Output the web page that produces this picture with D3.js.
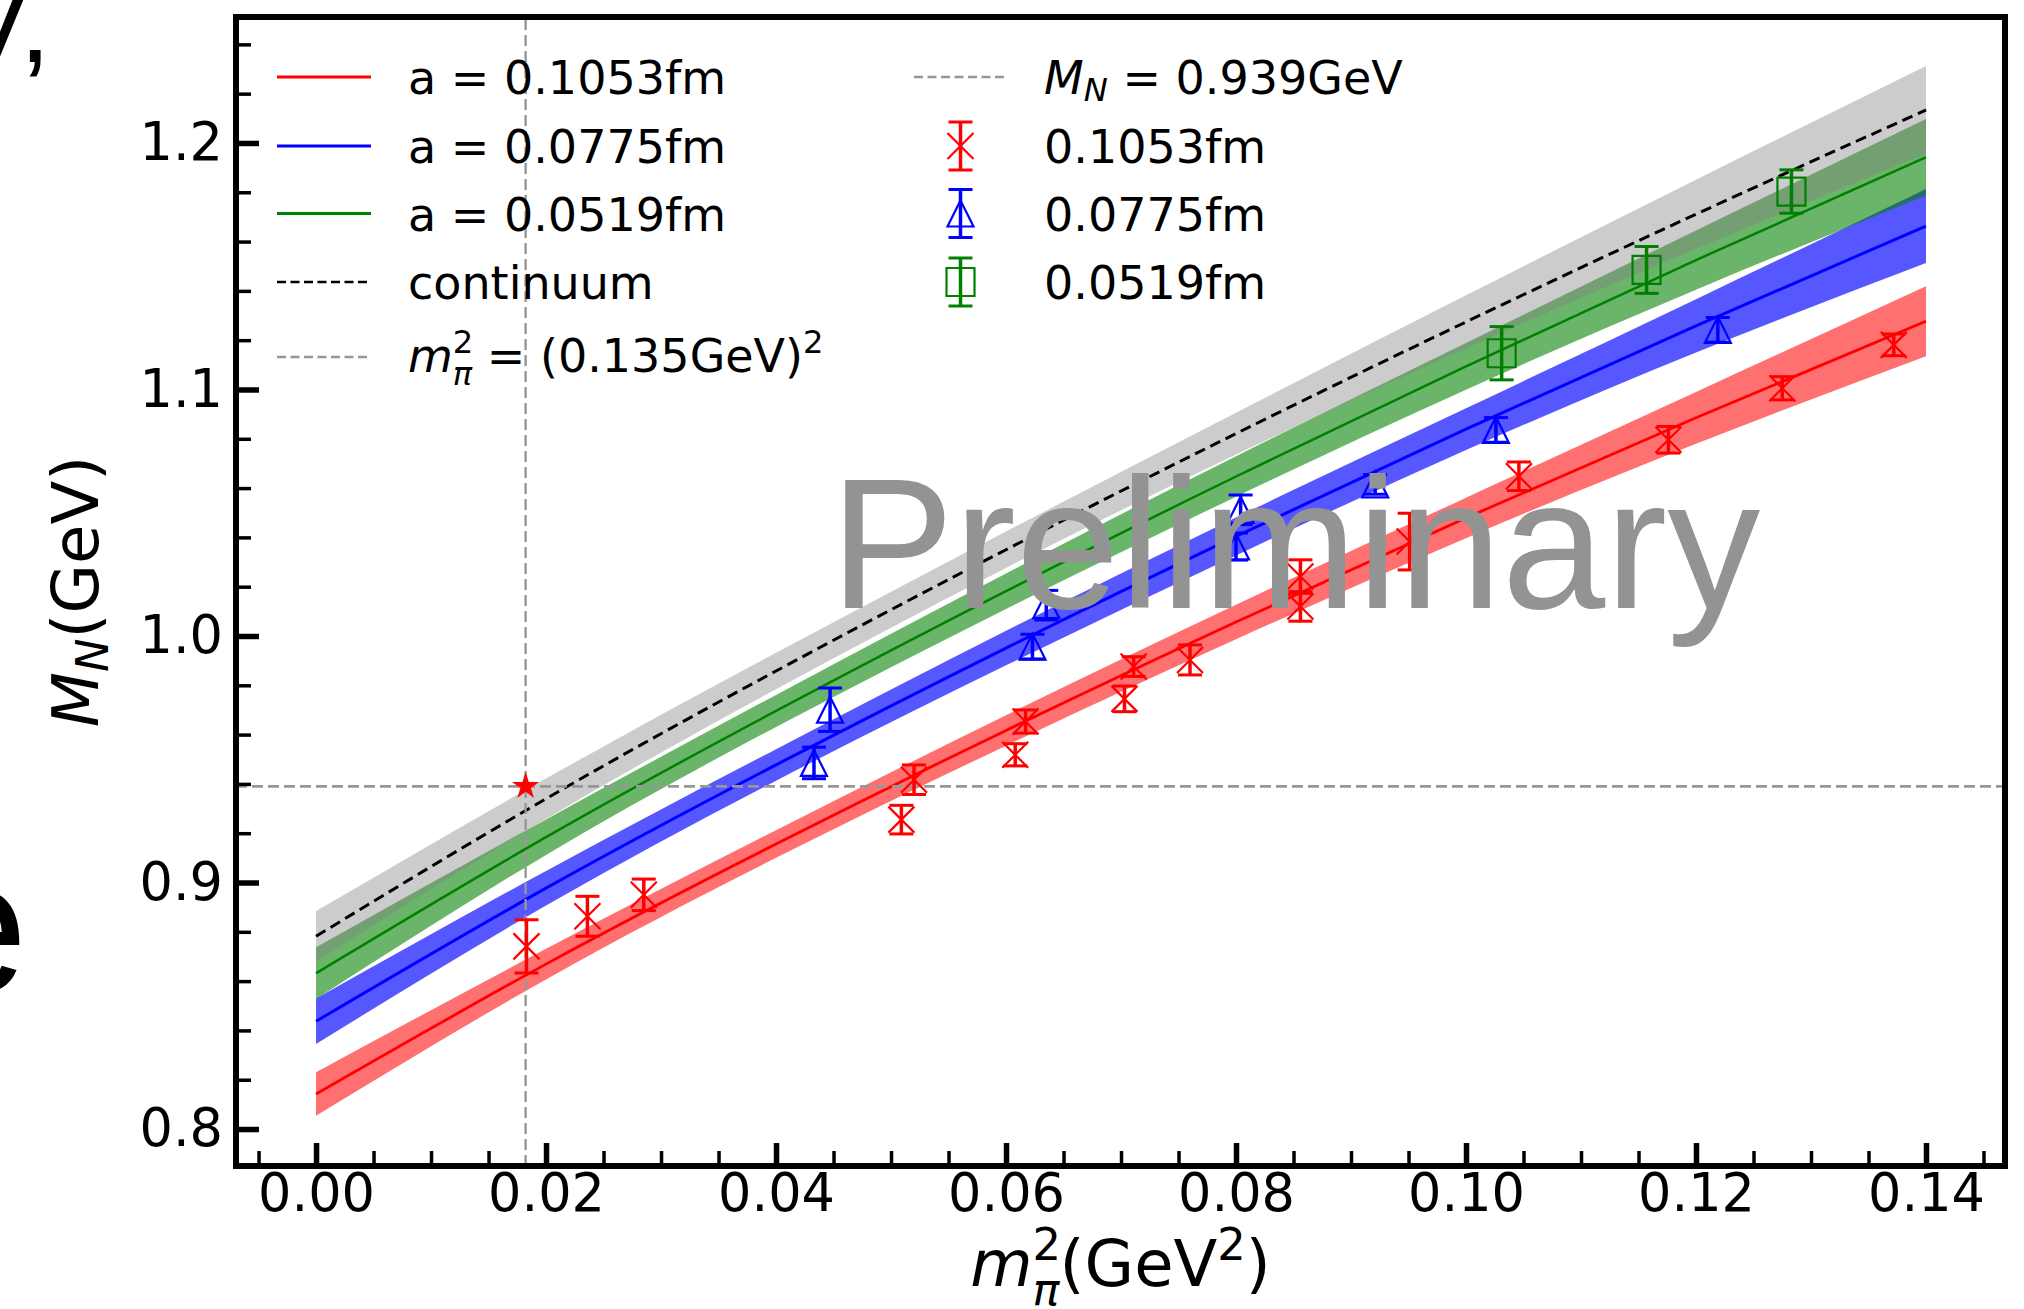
<!DOCTYPE html>
<html>
<head>
<meta charset="utf-8">
<script src="https://cdn.jsdelivr.net/npm/d3@7/dist/d3.min.js"></script>
<style>
  html, body { margin: 0; padding: 0; background: #fff; }
  svg { display: block; }
  text { font-family: "DejaVu Sans", sans-serif; fill: #000; }
</style>
</head>
<body>
<svg id="chart" width="2024" height="1309"></svg>
<script>
// ---------- chiral-fit curves, sampled in m_pi^2 (GeV^2) ----------
const curveM2 = [0, 0.02, 0.04, 0.06, 0.08, 0.10, 0.12, 0.14];
// central M_N (GeV) and half-width of the error band for each lattice spacing
const fit1053 = [0.8142, 0.8669, 0.9156, 0.9617, 1.0057, 1.0479, 1.0885, 1.1277];
const err1053 = [0.0088, 0.0062, 0.0056, 0.0062, 0.0070, 0.0082, 0.0105, 0.0142];
const fit0775 = [0.8437, 0.8977, 0.9477, 0.9951, 1.0404, 1.0839, 1.1258, 1.1663];
const err0775 = [0.0092, 0.0070, 0.0064, 0.0070, 0.0077, 0.0085, 0.0108, 0.0150];
const fit0519 = [0.8632, 0.9184, 0.9696, 1.0182, 1.0647, 1.1094, 1.1525, 1.1942];
const err0519 = [0.0105, 0.0072, 0.0065, 0.0072, 0.0082, 0.0095, 0.0120, 0.0155];
const fitCont = [0.8782, 0.9340, 0.9858, 1.0350, 1.0821, 1.1274, 1.1711, 1.2134];
const errCont = [0.0102, 0.0082, 0.0074, 0.0074, 0.0085, 0.0108, 0.0140, 0.0178];

// ---------- lattice data points ----------
const m2_1053 = [0.0183, 0.0236, 0.0285, 0.0509, 0.0520, 0.0608, 0.0617, 0.0703, 0.0711, 0.0760, 0.0856, 0.0856, 0.0951, 0.1046, 0.1176, 0.1275, 0.1372];
const mn_1053 = [0.8741, 0.8863, 0.8950, 0.9255, 0.9417, 0.9518, 0.9653, 0.9745, 0.9876, 0.9903, 1.0241, 1.0120, 1.0383, 1.0648, 1.0796, 1.1005, 1.1181];
const dm_1053 = [0.0108, 0.0081, 0.0064, 0.0058, 0.0060, 0.0045, 0.0047, 0.0052, 0.0040, 0.0061, 0.0068, 0.0060, 0.0115, 0.0058, 0.0054, 0.0047, 0.0044];

const m2_0775 = [0.0433, 0.0447, 0.0623, 0.0635, 0.0800, 0.0804, 0.0921, 0.1026, 0.1219];
const mn_0775 = [0.9485, 0.9701, 0.9957, 1.0125, 1.0363, 1.0512, 1.0615, 1.0836, 1.1242];
const dm_0775 = [0.0064, 0.0088, 0.0050, 0.0060, 0.0055, 0.0060, 0.0040, 0.0050, 0.0050];

const m2_0519 = [0.1031, 0.1157, 0.1283];
const mn_0519 = [1.1147, 1.1485, 1.1803];
const dm_0519 = [0.0108, 0.0095, 0.0088];

// physical point
const m2Phys = 0.135 * 0.135;
const mnPhys = 0.939;

// ---------- axes ----------
const xDomain = [-0.00696, 0.14687];
const yDomain = [0.7850, 1.2511];
const xMajor = [0, 0.02, 0.04, 0.06, 0.08, 0.10, 0.12, 0.14];
const yMajor = [0.8, 0.9, 1.0, 1.1, 1.2];
const xMinor = d3.range(-0.005, 0.1465, 0.005);
const yMinor = d3.range(0.80, 1.245, 0.02);

// ---------- layout ----------
const frame = { left: 236, right: 2005, top: 17, bottom: 1166 };
const svg = d3.select("#chart");
const x = d3.scaleLinear().domain(xDomain).range([frame.left, frame.right]);
const y = d3.scaleLinear().domain(yDomain).range([frame.bottom, frame.top]);

const colors = { r: "#ff0000", b: "#0000ff", g: "#008000", k: "#000000", ref: "#979797", band: "#808080" };

// fragments of slide text running in from the left edge
svg.append("text").attr("x", -45).attr("y", 62)
  .style("font-family", "'Liberation Sans', Arial, sans-serif").attr("font-size", 112).text("V,");
svg.append("text").attr("x", -79).attr("y", 992)
  .style("font-family", "'Liberation Sans', Arial, sans-serif").attr("font-size", 192).text("e");

svg.append("defs").append("clipPath").attr("id", "plotClip")
  .append("rect").attr("x", frame.left).attr("y", frame.top)
  .attr("width", frame.right - frame.left).attr("height", frame.bottom - frame.top);

const plot = svg.append("g").attr("clip-path", "url(#plotClip)");

function bandData(fit, err) {
  return curveM2.map((m, i) => ({ m: m, c: fit[i], lo: fit[i] - err[i], hi: fit[i] + err[i] }));
}
const area = d3.area().x(d => x(d.m)).y0(d => y(d.lo)).y1(d => y(d.hi)).curve(d3.curveNatural);
const line = d3.line().x(d => x(d.m)).y(d => y(d.c)).curve(d3.curveNatural);

const fits = [
  { d: bandData(fit1053, err1053), col: colors.r, op: 0.56, lw: 2.8 },
  { d: bandData(fit0775, err0775), col: colors.b, op: 0.66, lw: 3.0 },
  { d: bandData(fit0519, err0519), col: colors.g, op: 0.58, lw: 2.5 },
];
fits.forEach(f => {
  plot.append("path").datum(f.d).attr("d", area).attr("fill", f.col).attr("fill-opacity", f.op);
  plot.append("path").datum(f.d).attr("d", line).attr("fill", "none").attr("stroke", f.col).attr("stroke-width", f.lw);
});
const cont = bandData(fitCont, errCont);
plot.append("path").datum(cont).attr("d", area).attr("fill", colors.band).attr("fill-opacity", 0.4);
plot.append("path").datum(cont).attr("d", line).attr("fill", "none")
  .attr("stroke", colors.k).attr("stroke-width", 3).attr("stroke-dasharray", "11,6");

// reference lines at the physical point
plot.append("line").attr("x1", x(xDomain[0])).attr("x2", x(xDomain[1]))
  .attr("y1", y(mnPhys)).attr("y2", y(mnPhys))
  .attr("stroke", colors.ref).attr("stroke-width", 2.6).attr("stroke-dasharray", "11,5");
plot.append("line").attr("x1", x(m2Phys)).attr("x2", x(m2Phys))
  .attr("y1", y(yDomain[0])).attr("y2", y(yDomain[1]))
  .attr("stroke", colors.ref).attr("stroke-width", 2.4).attr("stroke-dasharray", "11,5");

// marker shapes
function markerPath(shape, h) {
  if (shape === "x") return `M${-h},${-h}L${h},${h}M${-h},${h}L${h},${-h}`;
  if (shape === "tri") return `M0,${-h}L${h},${h}L${-h},${h}Z`;
  return `M${-h},${-h}H${h}V${h}H${-h}Z`;
}
const markerSize = { x: 13, tri: 13, sq: 14 };

function drawPoints(m2, mn, dm, col, shape) {
  const pts = m2.map((m, i) => ({ m: m, v: mn[i], e: dm[i] }));
  const g = plot.append("g").selectAll("g").data(pts).join("g")
    .attr("transform", d => `translate(${x(d.m)},0)`);
  g.append("line").attr("y1", d => y(d.v - d.e)).attr("y2", d => y(d.v + d.e))
    .attr("stroke", col).attr("stroke-width", 3.5);
  [-1, 1].forEach(s => {
    g.append("line").attr("x1", -12).attr("x2", 12)
      .attr("y1", d => y(d.v + s * d.e)).attr("y2", d => y(d.v + s * d.e))
      .attr("stroke", col).attr("stroke-width", 3);
  });
  g.append("path").attr("transform", d => `translate(0,${y(d.v)})`)
    .attr("d", markerPath(shape, markerSize[shape]))
    .attr("fill", "none").attr("stroke", col).attr("stroke-width", 2.2);
}
drawPoints(m2_1053, mn_1053, dm_1053, colors.r, "x");
drawPoints(m2_0775, mn_0775, dm_0775, colors.b, "tri");
drawPoints(m2_0519, mn_0519, dm_0519, colors.g, "sq");

// physical nucleon mass
plot.append("path").attr("transform", `translate(${x(m2Phys)},${y(mnPhys)})`)
  .attr("d", d3.symbol().type(d3.symbolStar).size(230)()).attr("fill", colors.r);

// watermark
svg.append("text").attr("x", x(0.0447)).attr("y", y(1.0115))
  .style("font-family", "'Liberation Sans', Arial, sans-serif")
  .attr("font-size", 186).style("fill", "#939393").text("Preliminary");

// ---------- rich text helper (italic / sub / superscripts) ----------
function richText(sel, parts, size) {
  parts.forEach(p => {
    const t = sel.append("tspan").text(p.t);
    if (p.i) t.style("font-style", "italic");
    t.attr("font-size", size * (p.s || 1));
    if (p.dy) t.attr("dy", p.dy * size);
    if (p.dx) t.attr("dx", p.dx * size);
  });
  return sel;
}

// ---------- legend ----------
const legFont = 46;
const legRows = [77, 146, 213.5, 282, 357];
const legendLeft = [
  { kind: "line", col: colors.r, parts: [{ t: "a = 0.1053fm" }] },
  { kind: "line", col: colors.b, parts: [{ t: "a = 0.0775fm" }] },
  { kind: "line", col: colors.g, parts: [{ t: "a = 0.0519fm" }] },
  { kind: "dash", col: colors.k, parts: [{ t: "continuum" }] },
  { kind: "dash", col: colors.ref, base: 14.5, parts: [
      { t: "m", i: true }, { t: "2", s: 0.7, dy: -0.41 },
      { t: "π", i: true, s: 0.7, dx: -0.445, dy: 0.71 },
      { t: " = (0.135GeV)", dy: -0.30 }, { t: "2", s: 0.7, dy: -0.41 }] },
];
const legendRight = [
  { kind: "dash", col: colors.ref, parts: [
      { t: "M", i: true }, { t: "N", i: true, s: 0.7, dy: 0.15 }, { t: " = 0.939GeV", dy: -0.15 }] },
  { kind: "err", col: colors.r, shape: "x", parts: [{ t: "0.1053fm" }] },
  { kind: "err", col: colors.b, shape: "tri", parts: [{ t: "0.0775fm" }] },
  { kind: "err", col: colors.g, shape: "sq", parts: [{ t: "0.0519fm" }] },
];
function drawLegend(entries, hx0, hx1, tx) {
  const lg = svg.append("g");
  entries.forEach((e, i) => {
    const cy = legRows[i];
    if (e.kind === "line" || e.kind === "dash") {
      const l = lg.append("line").attr("x1", hx0).attr("x2", hx1).attr("y1", cy).attr("y2", cy)
        .attr("stroke", e.col).attr("stroke-width", e.kind === "line" ? 2.8 : 2.6);
      if (e.kind === "dash") l.attr("stroke-dasharray", "9,4.5");
    } else {
      const cx = (hx0 + hx1) / 2;
      lg.append("line").attr("x1", cx).attr("x2", cx).attr("y1", cy - 24).attr("y2", cy + 24)
        .attr("stroke", e.col).attr("stroke-width", 3.5);
      [-24, 24].forEach(o => lg.append("line").attr("x1", cx - 12).attr("x2", cx + 12)
        .attr("y1", cy + o).attr("y2", cy + o).attr("stroke", e.col).attr("stroke-width", 3));
      lg.append("path").attr("transform", `translate(${cx},${cy})`)
        .attr("d", markerPath(e.shape, markerSize[e.shape]))
        .attr("fill", "none").attr("stroke", e.col).attr("stroke-width", 2.2);
    }
    const t = lg.append("text").attr("x", tx).attr("y", cy + (e.base || 17)).attr("font-size", legFont);
    richText(t, e.parts, legFont);
  });
}
drawLegend(legendLeft, 277, 371, 408);
drawLegend(legendRight, 914, 1007, 1044);

// ---------- ticks ----------
const tickFont = 52.5;
function styleAxis(g, w) {
  g.select(".domain").remove();
  g.selectAll(".tick line").attr("stroke", "#000").attr("stroke-width", w);
  g.selectAll("text").attr("font-size", tickFont).style("font-family", "'DejaVu Sans', sans-serif").style("fill", "#000");
}
const gxMinor = svg.append("g").attr("transform", `translate(0,${frame.bottom})`)
  .call(d3.axisBottom(x).tickValues(xMinor).tickSize(-15).tickFormat(""));
styleAxis(gxMinor, 3.5);
const gxMajor = svg.append("g").attr("transform", `translate(0,${frame.bottom})`)
  .call(d3.axisBottom(x).tickValues(xMajor).tickSize(-23).tickPadding(8).tickFormat(d3.format(".2f")));
styleAxis(gxMajor, 5.5);
const gyMinor = svg.append("g").attr("transform", `translate(${frame.left},0)`)
  .call(d3.axisLeft(y).tickValues(yMinor).tickSize(-15).tickFormat(""));
styleAxis(gyMinor, 3.5);
const gyMajor = svg.append("g").attr("transform", `translate(${frame.left},0)`)
  .call(d3.axisLeft(y).tickValues(yMajor).tickSize(-23).tickPadding(13).tickFormat(d3.format(".1f")));
styleAxis(gyMajor, 5.5);

// frame
svg.append("rect").attr("x", frame.left).attr("y", frame.top)
  .attr("width", frame.right - frame.left).attr("height", frame.bottom - frame.top)
  .attr("fill", "none").attr("stroke", "#000").attr("stroke-width", 6);

// ---------- axis titles ----------
const labFont = 64;
const xl = svg.append("text").attr("x", (frame.left + frame.right) / 2).attr("y", 1286)
  .attr("text-anchor", "middle").attr("font-size", labFont);
richText(xl, [
  { t: "m", i: true }, { t: "2", s: 0.7, dy: -0.41 },
  { t: "π", i: true, s: 0.7, dx: -0.445, dy: 0.71 },
  { t: "(GeV", dy: -0.30 }, { t: "2", s: 0.7, dy: -0.41 }, { t: ")", dy: 0.41 }], labFont);

const yl = svg.append("text")
  .attr("transform", `translate(98,${(frame.top + frame.bottom) / 2}) rotate(-90)`)
  .attr("text-anchor", "middle").attr("font-size", labFont);
richText(yl, [
  { t: "M", i: true }, { t: "N", i: true, s: 0.7, dy: 0.15 }, { t: "(GeV)", dy: -0.15 }], labFont);
</script>
</body>
</html>
